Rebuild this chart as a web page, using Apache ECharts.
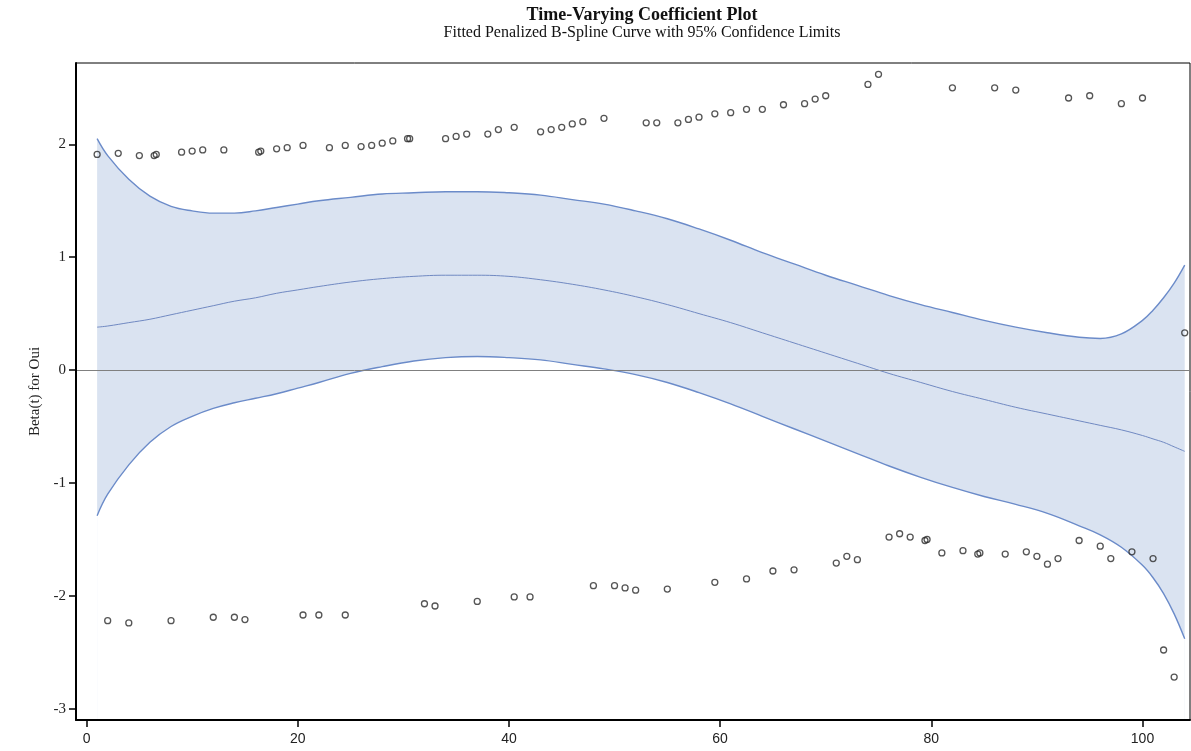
<!DOCTYPE html>
<html>
<head>
<meta charset="utf-8">
<title>Time-Varying Coefficient Plot</title>
<script src="https://cdn.jsdelivr.net/npm/echarts@6/dist/echarts.min.js"></script>
<style>
  html, body { margin: 0; padding: 0; background: #fff; }
  #chart { width: 1191px; height: 751px; }
</style>
</head>
<body>
<div id="chart"></div>
<script>
// Time grid of the fitted penalized B-spline and its 95% limits
const splineTime = [1, 2, 4, 6, 8, 10, 12, 14, 16, 18, 20, 22, 25, 28, 31, 34, 37, 40, 43, 46, 49, 52, 55, 58, 61, 64, 67, 70, 73, 76, 79, 82, 85, 88, 91, 94, 96, 98, 100, 101, 102, 103, 104];
const fitted = [0.38, 0.39, 0.42, 0.45, 0.49, 0.53, 0.57, 0.61, 0.64, 0.68, 0.71, 0.74, 0.78, 0.81, 0.83, 0.84, 0.84, 0.83, 0.80, 0.76, 0.71, 0.65, 0.58, 0.50, 0.42, 0.33, 0.24, 0.15, 0.06, -0.03, -0.11, -0.19, -0.26, -0.33, -0.39, -0.45, -0.49, -0.53, -0.58, -0.61, -0.64, -0.68, -0.72];
const upperLimit = [2.05, 1.90, 1.69, 1.54, 1.45, 1.41, 1.39, 1.39, 1.41, 1.44, 1.47, 1.50, 1.53, 1.56, 1.57, 1.58, 1.58, 1.57, 1.55, 1.51, 1.47, 1.41, 1.34, 1.25, 1.15, 1.04, 0.94, 0.84, 0.75, 0.66, 0.58, 0.51, 0.44, 0.38, 0.33, 0.29, 0.28, 0.32, 0.44, 0.53, 0.64, 0.77, 0.93];
const lowerLimit = [-1.29, -1.10, -0.84, -0.64, -0.50, -0.41, -0.34, -0.29, -0.25, -0.21, -0.16, -0.11, -0.03, 0.03, 0.08, 0.11, 0.12, 0.11, 0.09, 0.05, 0.01, -0.04, -0.11, -0.20, -0.30, -0.41, -0.52, -0.63, -0.74, -0.85, -0.95, -1.04, -1.12, -1.19, -1.27, -1.38, -1.46, -1.57, -1.73, -1.84, -1.98, -2.16, -2.38];

// Residual points (time, value)
const residTime = [1, 3, 5, 6.4, 6.6, 9, 10, 11, 13, 16.3, 16.5, 18, 19, 20.5, 23, 24.5, 26, 27, 28, 29, 30.4, 30.6, 34, 35, 36, 38, 39, 40.5, 43, 44, 45, 46, 47, 49, 53, 54, 56, 57, 58, 59.5, 61, 62.5, 64, 66, 68, 69, 70, 74, 75, 82, 86, 88, 93, 95, 98, 100,
  2, 4, 8, 12, 14, 15, 20.5, 22, 24.5, 32, 33, 37, 40.5, 42, 48, 50, 51, 52, 55, 59.5, 62.5, 65, 67, 71, 72, 73, 76, 77, 78, 79.4, 79.6, 81, 83, 84.4, 84.6, 87, 89, 90, 91, 92, 94, 96, 97, 99, 101, 102, 103, 104];
const residValue = [1.91, 1.92, 1.90, 1.90, 1.91, 1.93, 1.94, 1.95, 1.95, 1.93, 1.94, 1.96, 1.97, 1.99, 1.97, 1.99, 1.98, 1.99, 2.01, 2.03, 2.05, 2.05, 2.05, 2.07, 2.09, 2.09, 2.13, 2.15, 2.11, 2.13, 2.15, 2.18, 2.20, 2.23, 2.19, 2.19, 2.19, 2.22, 2.24, 2.27, 2.28, 2.31, 2.31, 2.35, 2.36, 2.40, 2.43, 2.53, 2.62, 2.50, 2.50, 2.48, 2.41, 2.43, 2.36, 2.41,
  -2.22, -2.24, -2.22, -2.19, -2.19, -2.21, -2.17, -2.17, -2.17, -2.07, -2.09, -2.05, -2.01, -2.01, -1.91, -1.91, -1.93, -1.95, -1.94, -1.88, -1.85, -1.78, -1.77, -1.71, -1.65, -1.68, -1.48, -1.45, -1.48, -1.51, -1.50, -1.62, -1.60, -1.63, -1.62, -1.63, -1.61, -1.65, -1.72, -1.67, -1.51, -1.56, -1.67, -1.61, -1.67, -2.48, -2.72, 0.33];

// Axis ticks
const xTicks = [0, 20, 40, 60, 80, 100];
const yTicks = [-3, -2, -1, 0, 1, 2];

const pairs = (xs, ys) => xs.map((x, i) => [x, ys[i]]);

const serif = '"Liberation Serif", "DejaVu Serif", serif';
const bandLine = '#6b8bc9';
const bandFill = '#dae3f1';

const chart = echarts.init(document.getElementById('chart'), null, { renderer: 'canvas' });

chart.setOption({
  animation: false,
  backgroundColor: '#ffffff',
  title: [
    {
      text: 'Time-Varying Coefficient Plot',
      left: 637, top: 1, textAlign: 'center',
      textStyle: { fontFamily: serif, fontWeight: 'bold', fontSize: 18, color: '#111' }
    },
    {
      text: 'Fitted Penalized B-Spline Curve with 95% Confidence Limits',
      left: 637, top: 20, textAlign: 'center',
      textStyle: { fontFamily: serif, fontWeight: 'normal', fontSize: 16, color: '#111' }
    }
  ],
  grid: {
    left: 76, right: 1, top: 63, bottom: 31,
    show: true, borderColor: '#000', borderWidth: 1, backgroundColor: 'transparent'
  },
  xAxis: {
    type: 'value',
    min: -1, max: 104.5,
    z: 10,
    axisLine: { show: true, onZero: false, lineStyle: { color: '#000', width: 2 } },
    axisTick: { show: true, length: 7, lineStyle: { color: '#000', width: 1.5 }, customValues: xTicks },
    axisLabel: {
      customValues: xTicks, margin: 12,
      fontFamily: '"Liberation Sans Narrow", "Liberation Sans", sans-serif',
      fontSize: 14, color: '#222'
    },
    splitLine: { show: false }
  },
  yAxis: {
    type: 'value',
    min: -3.1, max: 2.72,
    z: 10,
    name: 'Beta(t) for Oui',
    nameLocation: 'middle', nameGap: 27, nameRotate: 90,
    nameTextStyle: { fontFamily: serif, fontSize: 15, color: '#222' },
    axisLine: { show: true, onZero: false, lineStyle: { color: '#000', width: 2 } },
    axisTick: { show: true, length: 7, lineStyle: { color: '#000', width: 1.5 }, customValues: yTicks },
    axisLabel: {
      customValues: yTicks, margin: 10,
      fontFamily: serif, fontSize: 15, color: '#222'
    },
    splitLine: { show: false }
  },
  series: [
    {
      // upper limit, shaded down to the axis floor
      name: 'Upper limit',
      type: 'line',
      data: pairs(splineTime, upperLimit),
      smooth: 0.4, symbol: 'none',
      lineStyle: { color: bandLine, width: 1.4 },
      areaStyle: { color: bandFill, opacity: 1, origin: 'start' },
      z: 1
    },
    {
      // lower limit, clears the shading below the band
      name: 'Lower limit',
      type: 'line',
      data: pairs(splineTime, lowerLimit),
      smooth: 0.4, symbol: 'none',
      lineStyle: { color: bandLine, width: 1.4 },
      areaStyle: { color: '#ffffff', opacity: 1, origin: 'start' },
      z: 2
    },
    {
      name: 'Fitted',
      type: 'line',
      data: pairs(splineTime, fitted),
      smooth: 0.4, symbol: 'none',
      lineStyle: { color: '#7089c2', width: 1 },
      markLine: {
        silent: true, symbol: 'none', label: { show: false },
        lineStyle: { color: '#808080', width: 1, type: 'solid' },
        data: [{ yAxis: 0 }]
      },
      z: 3
    },
    {
      name: 'Residuals',
      type: 'scatter',
      data: pairs(residTime, residValue),
      symbol: 'circle', symbolSize: 6,
      itemStyle: { color: 'rgba(255,255,255,0)', borderColor: '#2b2b2b', borderWidth: 1.3 },
      z: 4
    }
  ]
});
</script>
</body>
</html>
